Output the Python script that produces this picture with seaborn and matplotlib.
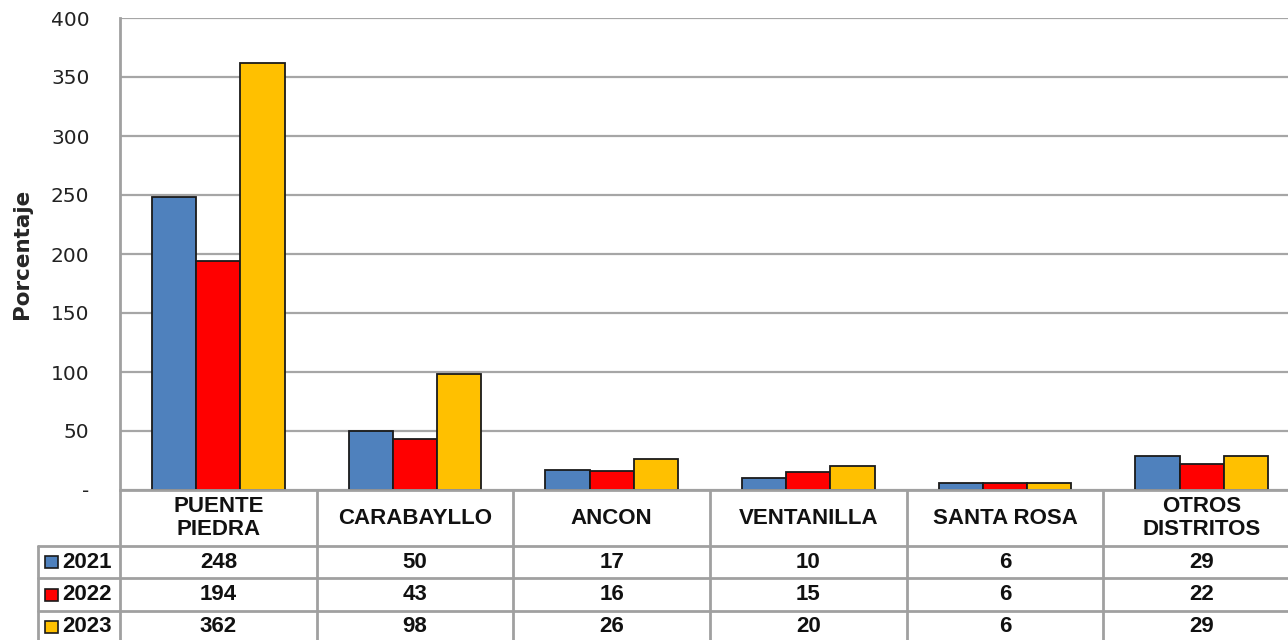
import pandas as pd
import numpy as np
import matplotlib
matplotlib.use("Agg")
import matplotlib.pyplot as plt
import seaborn as sns
from matplotlib.patches import Rectangle

# data
distritos = ["PUENTE\nPIEDRA", "CARABAYLLO", "ANCON", "VENTANILLA", "SANTA ROSA", "OTROS\nDISTRITOS"]
years = ["2021", "2022", "2023"]
v2021 = [248, 50, 17, 10, 6, 29]
v2022 = [194, 43, 16, 15, 6, 22]
v2023 = [362, 98, 26, 20, 6, 29]
colors = ["#4F81BD", "#FF0000", "#FFC000"]
yticks = [0, 50, 100, 150, 200, 250, 300, 350, 400]
ytick_labels = ["-"] + [str(t) for t in yticks[1:]]

values = {"2021": v2021, "2022": v2022, "2023": v2023}
df = pd.DataFrame({
    "distrito": np.tile(distritos, len(years)),
    "year": np.repeat(years, len(distritos)),
    "valor": v2021 + v2022 + v2023,
})

sns.set_style("white")
plt.rcParams["font.family"] = ["DejaVu Sans"]

W, H = 1288, 640
fig = plt.figure(figsize=(W / 100, H / 100), dpi=100)
# plot area in pixels: left 120, top 18, bottom 490, 6 columns of ~196.7 px
ax = fig.add_axes([120 / W, 150 / H, 1180 / W, 472 / H])

sns.barplot(data=df, x="distrito", y="valor", hue="year", hue_order=years,
            palette=colors, saturation=1, width=0.675, edgecolor="#1a1a1a",
            linewidth=1.3, legend=False, ax=ax, errorbar=None)

ax.set_xlim(-0.5, 5.5)
ax.set_ylim(0, 400)
ax.set_xticks([])
ax.set_xlabel("")
ax.set_ylabel("")
ax.set_yticks(yticks)
ax.set_yticklabels(ytick_labels, fontsize=14.5, color="#222222")
ax.tick_params(axis="y", length=0, pad=22)
ax.yaxis.grid(True, color="#A6A6A6", linewidth=1.6)
ax.set_axisbelow(True)
for s in ["top", "right"]:
    ax.spines[s].set_visible(False)
for s in ["left", "bottom"]:
    ax.spines[s].set_color("#A0A0A0")
    ax.spines[s].set_linewidth(2)

fig.text(22 / W, 1 - 254 / H, "Porcentaje", rotation=90, ha="center", va="center",
         fontsize=15.5, fontweight="bold")

# data table under the bars
tr = ax.get_xaxis_transform()
grid_c = "#A0A0A0"
y_head = -56 / 472
y_rows = [y_head, -88 / 472, -121 / 472, -153 / 472]
x_lab = -0.5 - 82 / 196.67

for xb in np.arange(-0.5, 6.0, 1.0):
    ax.plot([xb, xb], [0, y_rows[-1] - 0.05], color=grid_c, lw=2, transform=tr, clip_on=False)
ax.plot([x_lab, x_lab], [y_head, y_rows[-1] - 0.05], color=grid_c, lw=2, transform=tr, clip_on=False)
for yb in y_rows[:3]:
    ax.plot([x_lab, 5.6], [yb, yb], color=grid_c, lw=2, transform=tr, clip_on=False)

tfont = dict(family="Liberation Sans", fontsize=16, fontweight="bold", color="#111111")
for i, name in enumerate(distritos):
    ax.text(i, y_head / 2, name, ha="center", va="center", linespacing=1.1,
            transform=tr, clip_on=False, **tfont)

for r, yr in enumerate(years):
    yc = (y_rows[r] + y_rows[r + 1]) / 2
    for i, v in enumerate(values[yr]):
        ax.text(i, yc, str(v), ha="center", va="center", transform=tr, clip_on=False, **tfont)
    ax.add_patch(Rectangle((x_lab + 7 / 196.67, yc - 6 / 472), 13 / 196.67, 12 / 472,
                           facecolor=colors[r], edgecolor="#1a1a1a", lw=1.2,
                           transform=tr, clip_on=False))
    ax.text(x_lab + 24 / 196.67, yc, yr, ha="left", va="center", transform=tr,
            clip_on=False, **tfont)

fig.savefig("out.png", dpi=100)
